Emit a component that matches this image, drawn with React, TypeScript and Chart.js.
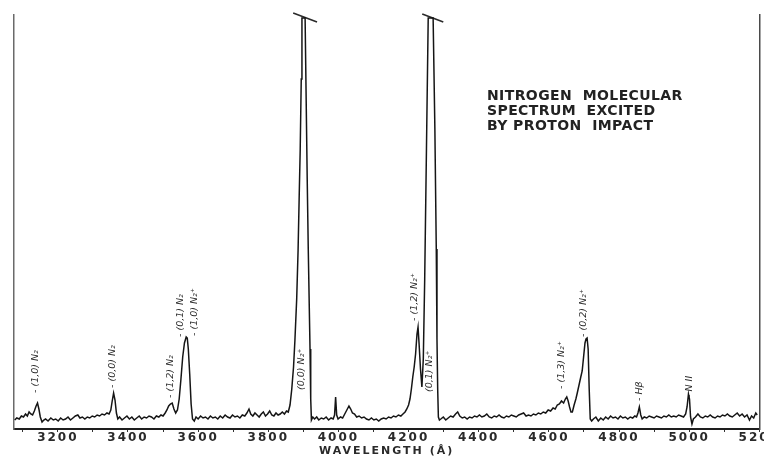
import { useEffect, useRef } from 'react';
import { Chart, registerables } from 'chart.js';

Chart.register(...registerables);

// Wavelength grid of the recorder trace (Å)
const WAVELENGTHS: number[] = [
  3077, 3083, 3090, 3096, 3102, 3108, 3113, 3118, 3123, 3128,
  3133, 3138, 3142, 3146, 3150, 3155, 3160, 3165, 3172, 3180,
  3187, 3194, 3201, 3208, 3215, 3222, 3229, 3236, 3243, 3250,
  3257, 3263, 3270, 3277, 3284, 3291, 3298, 3305, 3312, 3319,
  3326, 3333, 3340, 3346, 3351, 3355, 3359, 3363, 3367, 3371,
  3376, 3383, 3390, 3397, 3404, 3411, 3418, 3425, 3432, 3439,
  3446, 3453, 3460, 3467, 3474, 3481, 3488, 3494, 3500, 3506,
  3511, 3516, 3521, 3526, 3531, 3536, 3541, 3546, 3551, 3556,
  3561, 3566, 3569, 3572, 3576, 3580, 3584, 3589, 3594, 3600,
  3607, 3614, 3621, 3628, 3635, 3642, 3649, 3656, 3663, 3670,
  3677, 3684, 3691, 3698, 3705, 3712, 3719, 3726, 3733, 3739,
  3745, 3750, 3756, 3762, 3768, 3774, 3780, 3786, 3792, 3798,
  3804, 3810, 3816, 3822, 3828, 3834, 3840, 3846, 3852, 3857,
  3862, 3867, 3872, 3876, 3881, 3885, 3888, 3891, 3894, 3896,
  3905, 3908, 3911, 3914, 3917, 3919, 3921, 3923, 3927, 3932,
  3938, 3944, 3951, 3958, 3965, 3972, 3979, 3985, 3989, 3992,
  3995, 3999, 4006, 4012, 4018, 4024, 4030, 4035, 4040, 4046,
  4052, 4059, 4066, 4073, 4080, 4087, 4094, 4101, 4108, 4115,
  4122, 4129, 4136, 4143, 4150, 4157, 4164, 4171, 4178, 4184,
  4190, 4195, 4200, 4204, 4208, 4212, 4216, 4220, 4224, 4227,
  4230, 4234, 4238, 4242, 4246, 4251, 4256, 4270, 4275, 4279,
  4281, 4283, 4285, 4288, 4292, 4299, 4306, 4313, 4320, 4327,
  4334, 4340, 4346, 4353, 4360, 4367, 4374, 4381, 4388, 4395,
  4402, 4409, 4416, 4423, 4430, 4437, 4444, 4451, 4458, 4465,
  4472, 4479, 4486, 4493, 4500, 4507, 4514, 4521, 4528, 4535,
  4542, 4549, 4556, 4563, 4570, 4577, 4584, 4591, 4598, 4605,
  4612, 4618, 4624, 4630, 4636, 4642, 4647, 4651, 4655, 4659,
  4663, 4667, 4672, 4677, 4681, 4686, 4691, 4695, 4699, 4703,
  4706, 4709, 4712, 4715, 4718, 4722, 4727, 4734, 4741, 4748,
  4755, 4762, 4769, 4776, 4783, 4790, 4797, 4804, 4811, 4818,
  4825, 4832, 4839, 4845, 4850, 4854, 4858, 4862, 4866, 4872,
  4879, 4886, 4893, 4900, 4907, 4914, 4921, 4928, 4935, 4942,
  4949, 4956, 4963, 4970, 4977, 4984, 4990, 4994, 4998, 5001,
  5004, 5008, 5012, 5018, 5025, 5032, 5039, 5046, 5053, 5060,
  5067, 5074, 5081, 5088, 5095, 5102, 5109, 5116, 5123, 5130,
  5137, 5144, 5151, 5158, 5165, 5172, 5178, 5184, 5190, 5194,
];

// Recorded intensity (arbitrary units); the two strongest bands run off scale
const INTENSITY: number[] = [
  9, 11, 10, 13, 12, 15, 13, 17, 15, 14,
  18, 23, 26, 20, 12, 7, 9, 10, 8, 11,
  9, 10, 8, 11, 9, 10, 12, 9, 11, 13,
  14, 11, 12, 10, 12, 11, 13, 12, 14, 13,
  15, 14, 16, 15, 19, 28, 36, 29, 16, 10,
  12, 9, 11, 13, 10, 12, 9, 11, 13, 10,
  12, 11, 13, 12, 10, 13, 12, 14, 13, 16,
  19, 23, 25, 26, 20, 16, 19, 30, 50, 72,
  86, 92, 91, 80, 55, 25, 10, 8, 12, 10,
  13, 11, 12, 10, 13, 11, 12, 10, 13, 11,
  14, 12, 11, 14, 12, 13, 11, 14, 13, 16,
  20, 15, 13, 16, 14, 12, 15, 17, 13, 15,
  18, 14, 13, 16, 14, 15, 17, 15, 18, 17,
  24, 40, 62, 89, 130, 179, 230, 279, 350, 411,
  411, 330, 250, 180, 120, 80, 30, 9, 12, 10,
  12, 9, 11, 10, 12, 9, 11, 10, 14, 32,
  14, 10, 12, 11, 15, 19, 23, 20, 16, 15,
  12, 13, 11, 12, 10, 9, 11, 9, 10, 8,
  10, 11, 10, 12, 11, 13, 12, 14, 13, 15,
  17, 20, 24, 30, 40, 52, 62, 75, 95, 102,
  85, 60, 42, 70, 150, 280, 411, 411, 300, 180,
  90, 40, 12, 9, 10, 12, 9, 11, 13, 12,
  15, 17, 13, 11, 12, 10, 12, 11, 13, 12,
  14, 12, 13, 15, 12, 11, 13, 12, 14, 12,
  11, 13, 12, 14, 13, 12, 14, 15, 16, 13,
  14, 13, 15, 14, 16, 15, 17, 16, 19, 18,
  21, 20, 24, 25, 28, 26, 30, 32, 28, 22,
  17, 17, 24, 30, 36, 44, 52, 58, 72, 86,
  90, 91, 80, 40, 10, 8, 10, 12, 8, 11,
  9, 12, 10, 13, 11, 12, 10, 13, 11, 12,
  10, 12, 11, 13, 12, 16, 22, 14, 10, 12,
  11, 13, 12, 11, 13, 12, 11, 13, 12, 14,
  12, 13, 12, 14, 13, 12, 15, 22, 35, 30,
  12, 5, 10, 12, 15, 12, 11, 13, 12, 14,
  12, 11, 13, 12, 14, 13, 15, 13, 12, 14,
  16, 13, 15, 12, 14, 9, 13, 11, 16, 14,
];

// Slanted "off scale" bars across the tops of the two saturated bands
const CAP_WAVELENGTHS: number[] = [3871, 3939, 3990, 4239, 4299];
const CAP_LEVELS: (number | null)[] = [416, 407, null, 415, 407];

// Band identifications, written vertically above each feature
const LINE_LABELS: string[] = [
  '- (1,0) N₂', '- (0,0) N₂', '- (1,2) N₂', '- (0,1) N₂', '- (1,0) N₂⁺', '(0,0) N₂⁺',
  '- (1,2) N₂⁺', '(0,1) N₂⁺', '- (1,3) N₂⁺', '- (0,2) N₂⁺', '- Hβ', '- N II',
];
const LABEL_WAVELENGTHS: number[] = [3135, 3355, 3520, 3551, 3591, 3894, 4216, 4259, 4635, 4698, 4858, 5000];
const LABEL_LEVELS: number[] = [36, 41, 31, 92, 93, 39, 108, 37, 40, 92, 28, 31];

const TITLE_LINES: string[] = ['NITROGEN  MOLECULAR', 'SPECTRUM  EXCITED', 'BY PROTON  IMPACT'];

const X_MIN = 3075;
const X_MAX = 5200;
const Y_MAX = 414;

const CANVAS_W = 776;
const CANVAS_H = 457;

const INK = '#151515';

const spacingPlugin = {
  id: 'axisLetterSpacing',
  beforeDraw(chart: Chart) {
    (chart.ctx as any).letterSpacing = '2px';
  },
};

const bandLabelPlugin = {
  id: 'bandLabels',
  afterDatasetsDraw(chart: Chart) {
    const ctx = chart.ctx;
    const xs = chart.scales.x;
    const ys = chart.scales.y;
    ctx.save();
    (ctx as any).letterSpacing = '0px';
    ctx.fillStyle = '#2b2b2b';
    ctx.font = 'italic 9.5px "DejaVu Sans"';
    ctx.textAlign = 'left';
    ctx.textBaseline = 'middle';
    LINE_LABELS.forEach((text, i) => {
      const px = xs.getPixelForValue(LABEL_WAVELENGTHS[i]);
      const py = ys.getPixelForValue(LABEL_LEVELS[i]);
      ctx.save();
      ctx.translate(px, py);
      ctx.rotate(-Math.PI / 2);
      ctx.fillText(text, 0, 0);
      ctx.restore();
    });
    ctx.restore();
  },
  afterDraw(chart: Chart) {
    const ctx = chart.ctx;
    ctx.save();
    (ctx as any).letterSpacing = '0.4px';
    ctx.fillStyle = '#222';
    ctx.font = 'bold 14px "DejaVu Sans"';
    ctx.textAlign = 'left';
    ctx.textBaseline = 'middle';
    TITLE_LINES.forEach((line, i) => {
      ctx.fillText(line, 487, 96.5 + i * 15);
    });
    ctx.restore();
  },
};

export default function App() {
  const canvasRef = useRef<HTMLCanvasElement | null>(null);

  useEffect(() => {
    const canvas = canvasRef.current;
    if (!canvas) return;

    const spectrum = WAVELENGTHS.map((w, i) => ({ x: w, y: INTENSITY[i] }));
    const caps = CAP_WAVELENGTHS.map((w, i) => ({ x: w, y: CAP_LEVELS[i] }));

    const chart = new Chart(canvas, {
      type: 'line',
      data: {
        datasets: [
          {
            data: spectrum as any,
            borderColor: INK,
            borderWidth: 1.5,
            pointRadius: 0,
            tension: 0,
          },
          {
            data: caps as any,
            borderColor: '#2a2a2a',
            borderWidth: 1.6,
            pointRadius: 0,
            tension: 0,
            spanGaps: false,
            clip: false as any,
          },
        ],
      },
      options: {
        responsive: false,
        animation: false,
        events: [],
        layout: { padding: { top: 15, left: 14, right: 0, bottom: 0 } },
        plugins: {
          legend: { display: false },
          tooltip: { enabled: false },
          title: { display: false },
        },
        scales: {
          x: {
            type: 'linear',
            min: X_MIN,
            max: X_MAX,
            position: 'bottom',
            border: { display: true, color: '#1e1e1e', width: 2 },
            grid: {
              display: true,
              drawOnChartArea: false,
              drawTicks: true,
              tickLength: 3,
              color: '#333',
              lineWidth: 1,
            },
            ticks: {
              stepSize: 100,
              autoSkip: false,
              maxRotation: 0,
              includeBounds: false,
              padding: 0,
              color: '#2a2a2a',
              font: { family: '"DejaVu Sans"', size: 12, weight: 'bold', lineHeight: 1 },
              callback: (v: any) => (Number(v) % 200 === 0 ? String(v) : ''),
            },
            title: {
              display: true,
              text: 'WAVELENGTH (Å)',
              color: '#2a2a2a',
              font: { family: '"DejaVu Sans"', size: 11, weight: 'bold', lineHeight: 1 },
              padding: { top: 2, bottom: 0 },
            },
          },
          y: {
            type: 'linear',
            min: 0,
            max: Y_MAX,
            position: 'left',
            border: { display: true, color: '#6a6a6a', width: 1.5 },
            grid: { display: false, drawTicks: false },
            ticks: { display: false },
          },
          y2: {
            type: 'linear',
            min: 0,
            max: Y_MAX,
            position: 'right',
            border: { display: true, color: '#4a4a4a', width: 1.5 },
            grid: { display: false, drawTicks: false },
            ticks: { display: false },
          },
        },
      } as any,
      plugins: [spacingPlugin, bandLabelPlugin],
    });

    return () => chart.destroy();
  }, []);

  return (
    <div
      style={{
        position: 'absolute',
        left: 0,
        top: 0,
        width: 764,
        height: 457,
        overflow: 'hidden',
        background: '#fff',
      }}
    >
      <canvas ref={canvasRef} width={CANVAS_W} height={CANVAS_H} style={{ display: 'block' }} />
    </div>
  );
}
